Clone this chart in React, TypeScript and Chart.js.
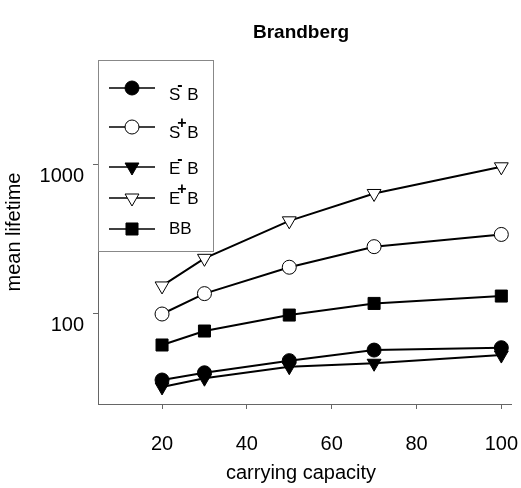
import { useEffect, useRef } from 'react';
import { Chart, registerables } from 'chart.js';

Chart.register(...registerables);

const chartTitle = 'Brandberg';
const xTitle = 'carrying capacity';
const yTitle = 'mean lifetime';

const capacity = [20, 30, 50, 70, 100];
const sMinusB = [35.5, 39.7, 47.9, 56.4, 58.5];
const sPlusB = [98.5, 135, 203, 279, 337];
const eMinusB = [31.9, 36.5, 43.6, 46, 52.2];
const ePlusB = [152, 233, 416, 635, 959];
const bbValues = [61, 75.7, 96.9, 116, 130];

const seriesLabels = ['S\u207BB', 'S\u207AB', 'E\u207BB', 'E\u207AB', 'BB'];
const xTickValues = [20, 40, 60, 80, 100];
const yTickValues = [100, 1000];

const FONT = '"Liberation Sans", Arial, sans-serif';

type Marker = { style: string; fill: string; radius: number };
const markers: Marker[] = [
  { style: 'circle', fill: '#000', radius: 7 },
  { style: 'circle', fill: '#fff', radius: 7 },
  { style: 'triDown', fill: '#000', radius: 8 },
  { style: 'triDown', fill: '#fff', radius: 8 },
  { style: 'rect', fill: '#000', radius: 8.5 },
];

function drawMarker(ctx: CanvasRenderingContext2D, m: Marker, x: number, y: number) {
  ctx.beginPath();
  if (m.style === 'circle') {
    ctx.arc(x, y, m.radius, 0, Math.PI * 2);
  } else if (m.style === 'triDown') {
    const r = m.radius;
    for (let k = 0; k < 3; k++) {
      const a = Math.PI + (k * 2 * Math.PI) / 3;
      const px = x + Math.sin(a) * r;
      const py = y - Math.cos(a) * r;
      if (k === 0) ctx.moveTo(px, py);
      else ctx.lineTo(px, py);
    }
    ctx.closePath();
  } else {
    const s = m.radius * Math.SQRT1_2;
    ctx.rect(x - s, y - s, 2 * s, 2 * s);
  }
  ctx.fillStyle = m.fill;
  ctx.fill();
  ctx.lineWidth = 1;
  ctx.strokeStyle = '#000';
  ctx.stroke();
}

const legendRowsMarkerY = [88, 127, 167, 198, 229];
const legendRowsTextY = [95, 133, 169, 199, 229];

function drawLegendLabel(ctx: CanvasRenderingContext2D, label: string, x: number, y: number) {
  ctx.fillStyle = '#000';
  ctx.textAlign = 'left';
  ctx.textBaseline = 'middle';
  ctx.font = `17px ${FONT}`;
  const sup = label[1];
  if (sup === '\u207B' || sup === '\u207A') {
    const base = label[0];
    const rest = label.slice(2);
    ctx.fillText(base, x, y);
    const w = ctx.measureText(base).width;
    ctx.font = `bold 16px ${FONT}`;
    ctx.fillText(sup === '\u207B' ? '-' : '+', x + w - 3, y - 9);
    ctx.font = `17px ${FONT}`;
    ctx.fillText(rest, x + w + 7, y);
  } else {
    ctx.fillText(label, x, y);
  }
}

const overlayPlugin = {
  id: 'overlay',
  afterDraw(chart: any) {
    const ctx: CanvasRenderingContext2D = chart.ctx;
    ctx.save();
    ctx.fillStyle = '#000';
    ctx.textAlign = 'center';
    ctx.textBaseline = 'middle';
    ctx.font = `bold 19px ${FONT}`;
    ctx.fillText(chartTitle, 301, 33);
    ctx.font = `20px ${FONT}`;
    ctx.fillText(xTitle, 301, 473);

    ctx.fillStyle = '#fff';
    ctx.fillRect(98, 60, 115, 191);
    ctx.strokeStyle = '#888';
    ctx.lineWidth = 1;
    ctx.strokeRect(98.5, 60.5, 115, 191);

    chart.data.datasets.forEach((ds: any, i: number) => {
      const y = legendRowsMarkerY[i];
      ctx.beginPath();
      ctx.moveTo(109, y);
      ctx.lineTo(155, y);
      ctx.strokeStyle = '#000';
      ctx.lineWidth = 1.6;
      ctx.stroke();
      drawMarker(ctx, markers[i], 132, y);
      drawLegendLabel(ctx, ds.label, 169, legendRowsTextY[i]);
    });
    ctx.restore();
  },
};

export default function App() {
  const ref = useRef<HTMLCanvasElement>(null);

  useEffect(() => {
    if (!ref.current) return;
    const seriesValues = [sMinusB, sPlusB, eMinusB, ePlusB, bbValues];
    const datasets = seriesValues.map((vals, i) => {
      const m = markers[i];
      const isTri = m.style === 'triDown';
      return {
        label: seriesLabels[i],
        data: capacity.map((c, j) => ({ x: c, y: vals[j] })),
        borderColor: '#000',
        borderWidth: 2,
        backgroundColor: m.fill,
        pointBackgroundColor: m.fill,
        pointBorderColor: '#000',
        pointBorderWidth: 1,
        pointRadius: m.radius,
        pointStyle: isTri ? 'triangle' : m.style,
        pointRotation: isTri ? 180 : 0,
        tension: 0,
        fill: false,
      };
    });

    const chart = new Chart(ref.current, {
      type: 'line',
      data: { datasets },
      plugins: [overlayPlugin],
      options: {
        animation: false,
        responsive: false,
        devicePixelRatio: 1,
        layout: { padding: { left: 0, top: 60, right: 0, bottom: 0 } },
        plugins: { legend: { display: false }, title: { display: false }, tooltip: { enabled: false } },
        font: { family: FONT },
        scales: {
          x: {
            type: 'linear',
            min: 4.9,
            max: 102.4,
            afterBuildTicks: (scale: any) => {
              scale.ticks = xTickValues.map((v) => ({ value: v }));
            },
            afterFit: (scale: any) => {
              scale.height = 84;
              scale.paddingLeft = 0;
              scale.paddingRight = 0;
            },
            border: { display: true, color: '#666', width: 1 },
            grid: { drawOnChartArea: false, drawTicks: true, tickLength: 5, color: '#666', tickColor: '#666' },
            ticks: { color: '#000', font: { family: FONT, size: 20 }, padding: 23, maxRotation: 0 },
            title: { display: false },
          },
          y: {
            type: 'logarithmic',
            min: 24.5,
            max: 5000,
            afterBuildTicks: (scale: any) => {
              scale.ticks = yTickValues.map((v) => ({ value: v }));
            },
            afterFit: (scale: any) => {
              scale.width = 98;
              scale.paddingTop = 0;
              scale.paddingBottom = 0;
            },
            border: { display: true, color: '#666', width: 1 },
            grid: { drawOnChartArea: false, drawTicks: true, tickLength: 5, color: '#666', tickColor: '#666' },
            ticks: {
              color: '#000',
              font: { family: FONT, size: 20 },
              padding: 9,
              labelOffset: 12,
              callback: (v: any) => String(v),
            },
            title: {
              display: true,
              text: yTitle,
              color: '#000',
              font: { family: FONT, size: 20 },
              padding: { top: 2, bottom: 0 },
            },
          },
        },
      } as any,
    });
    return () => chart.destroy();
  }, []);

  return (
    <div style={{ position: 'absolute', left: 0, top: 0, width: 521, height: 488, background: '#fff' }}>
      <canvas ref={ref} width={521} height={488} style={{ display: 'block' }} />
    </div>
  );
}
